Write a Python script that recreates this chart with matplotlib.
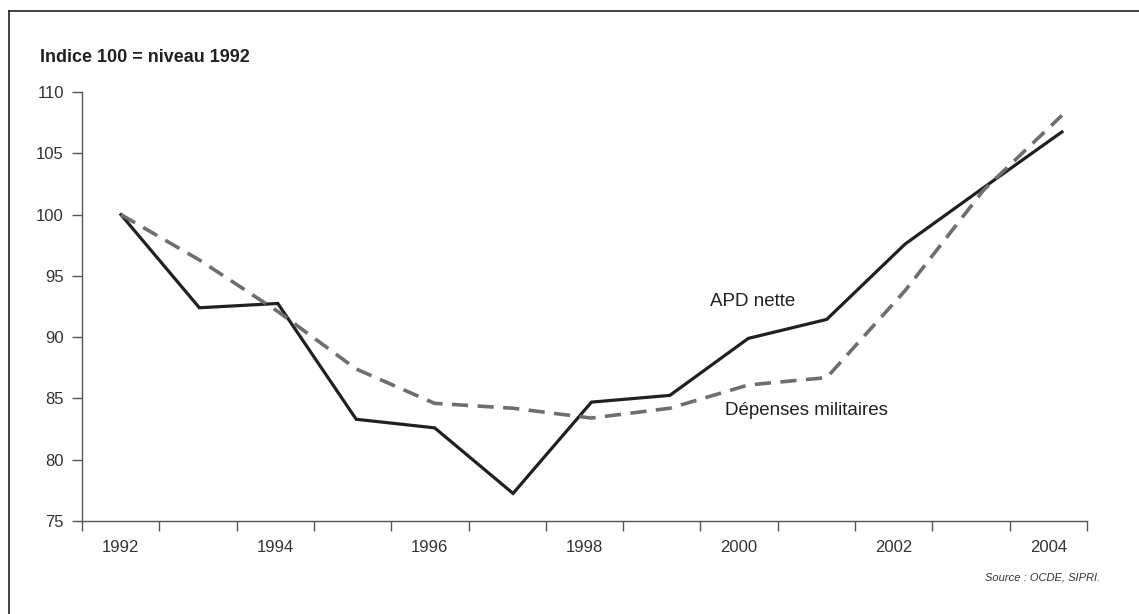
import numpy as np
import matplotlib
matplotlib.use("Agg")
import matplotlib.pyplot as plt
from matplotlib.lines import Line2D

plt.rcParams['font.family'] = ['Liberation Sans Narrow', 'Liberation Sans', 'DejaVu Sans']

# Data (index 100 = 1992 level)
years = np.arange(1992, 2005)
apd_nette = [100, 92.4, 92.75, 83.3, 82.6, 77.25, 84.7, 85.25, 89.9, 91.45, 97.6, 102.2, 106.75]
depenses_mil = [100, 96.3, 92.1, 87.4, 84.6, 84.2, 83.4, 84.2, 86.1, 86.7, 93.8, 102.0, 108.1]
year_labels = ['1992', '1994', '1996', '1998', '2000', '2002', '2004']

fig = plt.figure(figsize=(11.39, 6.14), dpi=100)
ax = fig.add_axes([0.072, 0.1515, 0.8823, 0.6985])

ax.plot(years, apd_nette, color='#231f20', lw=2.3, solid_joinstyle='miter')
ax.plot(years, depenses_mil, color='#6d6e71', lw=2.6, dashes=(4.5, 2.6))

xlo, xhi = 1991.503, 2004.319
ax.set_xlim(xlo, xhi)
ax.set_ylim(75, 110)

# tick marks on bin edges, labels at bin centres
edges = np.linspace(xlo, xhi, 14)
centres = (edges[:-1] + edges[1:]) / 2
ax.set_xticks(edges)
ax.set_xticklabels([])
ax.set_xticks(centres[::2], minor=True)
ax.set_xticklabels(year_labels, minor=True)
ax.tick_params(axis='x', which='major', length=7, width=1, color='#555555', direction='out')
ax.tick_params(axis='x', which='minor', length=0, pad=14, labelsize=12, labelcolor='#333333')

ax.set_yticks(np.arange(75, 111, 5))
ax.tick_params(axis='y', length=7, width=1, color='#555555', pad=6, labelsize=12, labelcolor='#333333')

for s in ['top', 'right']:
    ax.spines[s].set_visible(False)
for s in ['left', 'bottom']:
    ax.spines[s].set_color('#555555')
    ax.spines[s].set_linewidth(1)

ax.text(2000.05, 92.9, 'APD nette', fontsize=13.5, color='#231f20', ha='center', va='center')
ax.text(2000.74, 84.05, 'Dépenses militaires', fontsize=13.5, color='#231f20', ha='center', va='center')

fig.text(40 / 1139, 1 - 57 / 614, 'Indice 100 = niveau 1992', fontsize=13, fontweight='bold',
         color='#231f20', ha='left', va='center')
fig.text(1100 / 1139, 1 - 578 / 614, 'Source : OCDE, SIPRI.', fontsize=8, style='italic',
         color='#333333', ha='right', va='center')

# frame: top and left lines only
fig.add_artist(Line2D([9 / 1139, 1], [1 - 11 / 614, 1 - 11 / 614], transform=fig.transFigure,
                      color='#231f20', lw=1.2))
fig.add_artist(Line2D([9 / 1139, 9 / 1139], [0, 1 - 11 / 614], transform=fig.transFigure,
                      color='#231f20', lw=1.2))

fig.savefig('out.png', dpi=100)
